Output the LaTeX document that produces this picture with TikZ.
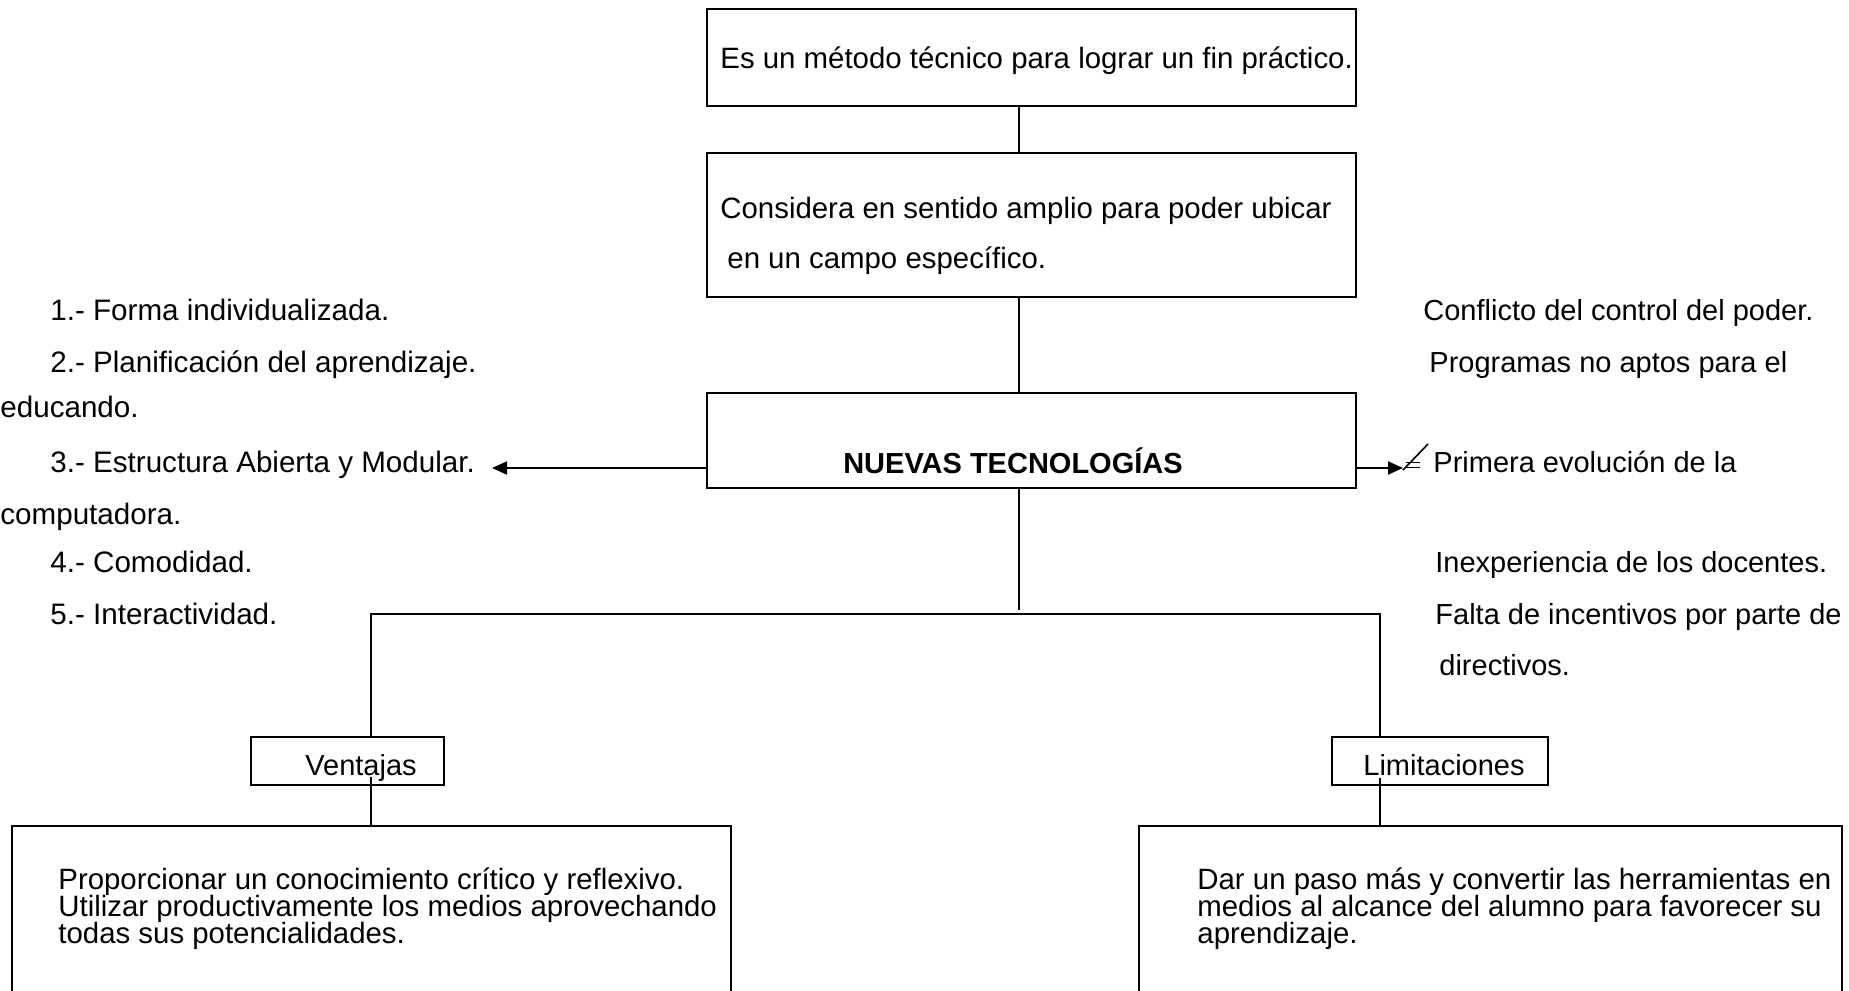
\documentclass[tikz,border=0pt]{standalone}
\usepackage{fontspec}
\setmainfont{Liberation Sans}
\usetikzlibrary{arrows.meta,fit}
\begin{document}
\begin{tikzpicture}[x=0.5pt,y=-0.5pt,
  box/.style={draw, line width=1pt, rectangle, inner sep=0pt},
  free/.style={anchor=base west, inner sep=0pt, font=\fontsize{14.5}{17}\selectfont},
  lfree/.style={anchor=base west, inner sep=0pt, font=\fontsize{14.8}{17}\selectfont},
  btxt/.style={anchor=base west, inner sep=0pt, font=\fontsize{14.7}{17}\selectfont},
  conn/.style={line width=1pt},
  arr/.style={line width=1pt, -{Triangle[length=7.5pt,width=6.5pt]}}]
\useasboundingbox (0,0) rectangle (1849,991);

% boxes
\node[box, fit={(707,9) (1356,106)}] (b1) {};
\node[box, fit={(707,153) (1356,297)}] (b2) {};
\node[box, fit={(707,393) (1356,488)}] (b3) {};
\node[box, fit={(251,737) (444,785)}] (vbox) {};
\node[box, fit={(1332,737) (1548,785)}] (lbox) {};
\node[box, fit={(12,826) (731,1010)}] (bl) {};
\node[box, fit={(1139,826) (1842,1010)}] (br) {};

% box texts
\node[btxt] (t1) at (720,68) {Es un método técnico para lograr un fin práctico.};
\node[btxt] (t2a) at (720,218) {Considera en sentido amplio para poder ubicar};
\node[btxt] (t2b) at (727,268) {en un campo específico.};
\node[anchor=center, inner sep=0pt, font=\bfseries\fontsize{14.5}{17}\selectfont] (t3) at (1013,461) {NUEVAS TECNOLOGÍAS};
\node[free] (tv) at (305,775) {Ventajas};
\node[free] (tl) at (1363,775) {Limitaciones};
\node[btxt] (tbl1) at (58,889) {Proporcionar un conocimiento crítico y reflexivo.};
\node[btxt] (tbl2) at (58,916) {Utilizar productivamente los medios aprovechando};
\node[btxt] (tbl3) at (58,943) {todas sus potencialidades.};
\node[btxt] (tbr1) at (1197,889) {Dar un paso más y convertir las herramientas en};
\node[btxt] (tbr2) at (1197,916) {medios al alcance del alumno para favorecer su};
\node[btxt] (tbr3) at (1197,943) {aprendizaje.};

% left list
\node[lfree] (l1) at (50,320) {1.- Forma individualizada.};
\node[lfree] (l2) at (50,372) {2.- Planificación del aprendizaje.};
\node[lfree] (l2b) at (0,417) {educando.};
\node[lfree] (l3) at (50,472) {3.- Estructura Abierta y Modular.};
\node[lfree] (l3b) at (0,524) {computadora.};
\node[lfree] (l4) at (50,572) {4.- Comodidad.};
\node[lfree] (l5) at (50,624) {5.- Interactividad.};

% right list
\node[free] (r1) at (1423,320) {Conflicto del control del poder.};
\node[free] (r2) at (1429,372) {Programas no aptos para el};
\node[free] (r3) at (1433,472) {Primera evolución de la};
\node[free] (r4) at (1435,572) {Inexperiencia de los docentes.};
\node[free] (r5) at (1435,624) {Falta de incentivos por parte de};
\node[free] (r6) at (1439,675) {directivos.};

% connectors
\coordinate (cx) at (1019,0);
\coordinate (j) at (1019,610);
\draw[conn] (cx |- b1.south) -- (cx |- b2.north);
\draw[conn] (cx |- b2.south) -- (cx |- b3.north);
\draw[conn] (cx |- b3.south) -- (j);
\coordinate (hl) at (371,614);
\coordinate (hr) at (1380,614);
\draw[conn] (hl |- vbox.north) -- (hl) -- (hr) -- (hr |- lbox.north);
\coordinate (vl) at (371,777);
\coordinate (vr) at (1380,778);
\draw[conn] (vl) -- (vl |- bl.north);
\draw[conn] (vr) -- (vr |- br.north);

% side arrows
\coordinate (ay) at (0,468);
\coordinate (ltip) at (492,468);
\coordinate (rtip) at (1403,468);
\draw[arr] (b3.west |- ay) -- (ltip);
\draw[arr] (b3.east |- ay) -- (rtip);

% odd symbol after right arrow
\draw[line width=0.8pt] (1406,462.5) -- (1420,462.5);
\draw[line width=0.8pt] (1406,467.5) -- (1420,467.5);
\draw[line width=0.8pt] (1403,470) -- (1428,444);
\end{tikzpicture}
\end{document}
